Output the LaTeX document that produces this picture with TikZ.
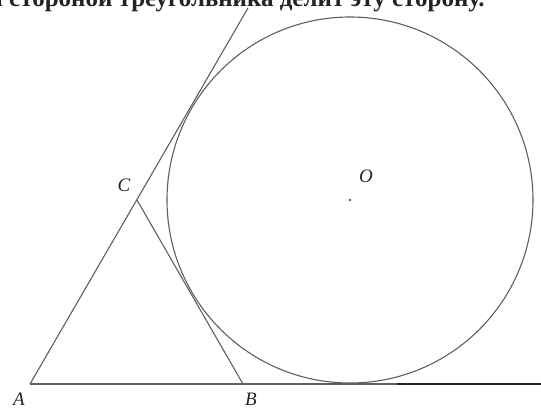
\documentclass[tikz,border=0pt]{standalone}
\usepackage{fontspec}
\setmainfont{Liberation Serif}
\definecolor{ink}{RGB}{95, 95, 95}
\definecolor{heavy}{RGB}{35, 35, 35}
\tikzset{
  lbl/.style={font=\fontsize{19}{19}\selectfont\itshape, text=heavy, inner sep=0pt}
}

\begin{document}
\begin{tikzpicture}[x=1pt, y=-1pt, line width=1.1pt, color=ink]
  \useasboundingbox (0, 0) rectangle (541, 409);
  \clip (0, 0) rectangle (541, 409);

  \coordinate (A) at (30, 384);
  \coordinate (B) at (243, 384);
  \coordinate (C) at (137, 200);
  \coordinate (top) at (248, 8);
  \coordinate (end) at (541, 384);
  \coordinate (O) at (350, 200);

  \node[anchor=base west, inner sep=0pt, text=heavy, font=\fontsize{25}{25}\selectfont\bfseries] (title) at (-12, 7) {й стороной треугольника делит эту сторону.};

  \draw (A) -- (top);
  \draw (C) -- (B);
  \draw (A) -- (end);
  \draw [line width=2pt, color=heavy] (397, 384) -- (end);
  \draw (O) circle [radius=183];
  \fill [color=heavy] (O) circle [radius=1.2];

  \node[lbl] (labA) at (19, 399) {A};
  \node[lbl] (labB) at (251, 399) {B};
  \node[lbl] (labC) at (124, 185) {C};
  \node[lbl] (labO) at (366, 176) {O};
\end{tikzpicture}
\end{document}
